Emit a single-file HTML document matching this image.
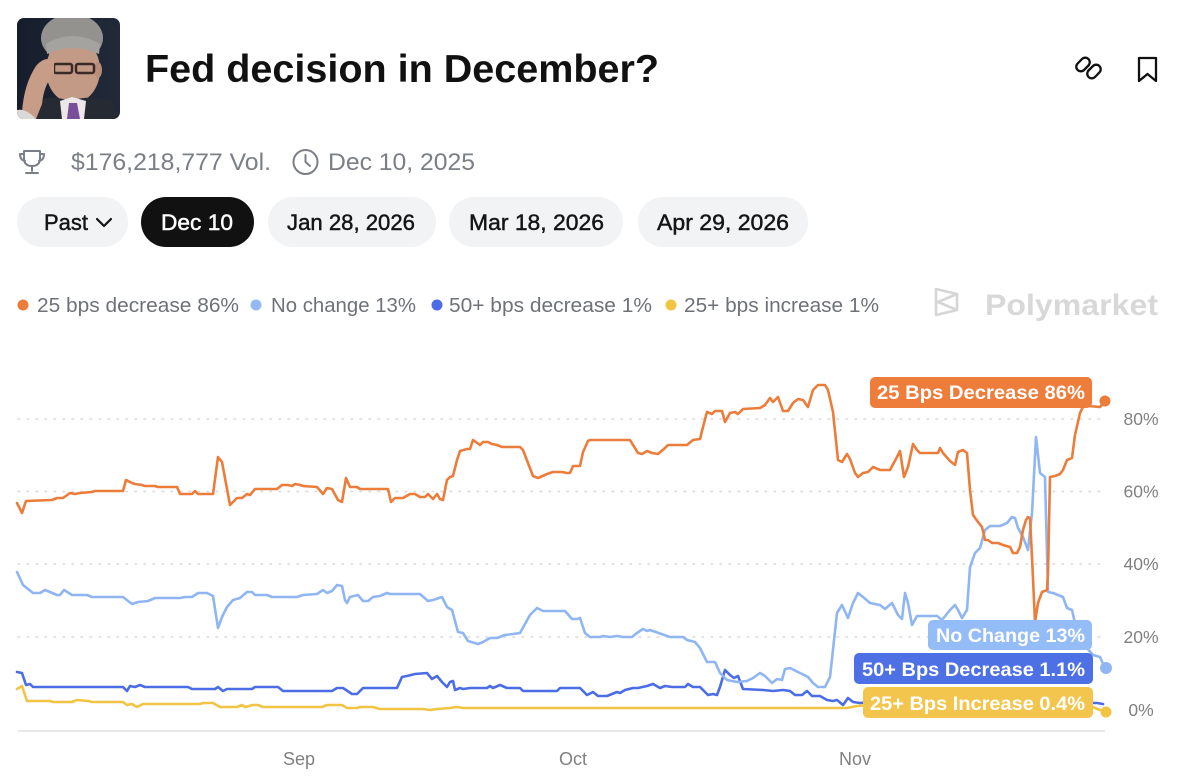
<!DOCTYPE html>
<html><head><meta charset="utf-8"><style>
html,body{margin:0;padding:0;background:#fff;}
svg{display:block;}
text{font-family:"Liberation Sans",Arial,sans-serif;}
</style></head><body>
<svg width="1198" height="780" viewBox="0 0 1198 780" xmlns="http://www.w3.org/2000/svg">
<defs>
<clipPath id="ph"><rect x="17" y="18" width="103" height="101" rx="7"/></clipPath>
<linearGradient id="bg" x1="0" y1="0" x2="1" y2="0"><stop offset="0" stop-color="#161d2c"/><stop offset="1" stop-color="#222938"/></linearGradient>
</defs>
<rect width="1198" height="780" fill="#fff"/>

<!-- Photo -->
<g clip-path="url(#ph)">
<rect x="17" y="18" width="103" height="101" fill="url(#bg)"/>
<ellipse cx="72" cy="38" rx="31" ry="24" fill="#94928f"/>
<ellipse cx="73" cy="70" rx="27" ry="33" fill="#c39a86"/>
<path d="M46,44 Q72,28 100,44 L99,54 Q72,42 47,54 Z" fill="#a5a39f"/>
<ellipse cx="48" cy="70" rx="4" ry="8" fill="#b88e7a"/>
<ellipse cx="98" cy="70" rx="4" ry="8" fill="#b88e7a"/>
<rect x="54" y="64" width="18" height="9" rx="2" fill="none" stroke="#3a2a26" stroke-width="2.5"/>
<rect x="76" y="64" width="18" height="9" rx="2" fill="none" stroke="#3a2a26" stroke-width="2.5"/>
<path d="M17,119 L28,102 Q52,94 70,101 Q92,94 112,101 L120,119 Z" fill="#262a33"/>
<path d="M60,101 L72,97 L86,101 L84,119 L62,119 Z" fill="#ece8ea"/>
<path d="M69,103 L77,103 L80,119 L67,119 Z" fill="#7a4f9a"/>
<path d="M22,112 Q24,84 36,66 Q44,56 54,60 L54,74 Q44,84 42,104 L36,119 L20,119 Z" fill="#c79d88"/>
<path d="M17,110 Q26,108 36,119 L17,119 Z" fill="#dcd8d8"/>
</g>

<!-- Title -->
<text x="145" y="82" font-size="39" font-weight="bold" fill="#111" textLength="514" lengthAdjust="spacingAndGlyphs">Fed decision in December?</text>

<!-- Link icon -->
<g fill="none" stroke="#111" stroke-width="2.3" stroke-linecap="round">
<path d="M1087,64 L1082,69 a4.5,4.5 0 0 1 -6.4,-6.4 L1080,58 a4.5,4.5 0 0 1 6.4,0 a4.5,4.5 0 0 1 0,6.4" transform="translate(2,1)"/>
<path d="M1090,72 L1095,67 a4.5,4.5 0 0 1 6.4,6.4 L1097,78 a4.5,4.5 0 0 1 -6.4,0 a4.5,4.5 0 0 1 0,-6.4" transform="translate(-2,-1)"/>
</g>
<!-- Bookmark -->
<path d="M1139,58 L1156,58 L1156,81 L1147.5,74 L1139,81 Z" fill="none" stroke="#111" stroke-width="2.3" stroke-linejoin="round"/>

<!-- Meta -->
<g fill="none" stroke="#7b7f86" stroke-width="2" stroke-linecap="round" stroke-linejoin="round">
<path d="M24,151 L40,151 L40,158 Q40,166 32,166 Q24,166 24,158 Z"/>
<path d="M24,154 L20,154 Q20,160 25,161"/>
<path d="M40,154 L44,154 Q44,160 39,161"/>
<path d="M32,166 L32,171 M26,173 L38,173"/>
<circle cx="305.5" cy="162" r="12"/>
<path d="M305.5,155 L305.5,162 L310,166"/>
</g>
<text x="71" y="170" font-size="24.5" fill="#7b7f86" textLength="200" lengthAdjust="spacingAndGlyphs">$176,218,777 Vol.</text>
<text x="328" y="170" font-size="24.5" fill="#7b7f86" textLength="147" lengthAdjust="spacingAndGlyphs">Dec 10, 2025</text>

<!-- Pills -->
<rect x="17" y="197" width="111" height="50" rx="25" fill="#f2f3f5"/>
<rect x="141" y="197" width="113" height="50" rx="25" fill="#111"/>
<rect x="268" y="197" width="168" height="50" rx="25" fill="#f2f3f5"/>
<rect x="449" y="197" width="174" height="50" rx="25" fill="#f2f3f5"/>
<rect x="638" y="197" width="170" height="50" rx="25" fill="#f2f3f5"/>
<g font-size="22" stroke-width="0.45">
<text x="44" y="230" fill="#151515" stroke="#151515" textLength="44" lengthAdjust="spacingAndGlyphs">Past</text>
<text x="161" y="230" fill="#fff" stroke="#fff" textLength="72" lengthAdjust="spacingAndGlyphs">Dec 10</text>
<text x="287" y="230" fill="#151515" stroke="#151515" textLength="128" lengthAdjust="spacingAndGlyphs">Jan 28, 2026</text>
<text x="469" y="230" fill="#151515" stroke="#151515" textLength="135" lengthAdjust="spacingAndGlyphs">Mar 18, 2026</text>
<text x="657" y="230" fill="#151515" stroke="#151515" textLength="132" lengthAdjust="spacingAndGlyphs">Apr 29, 2026</text>
</g>
<polyline points="97,219 104,226 111,219" fill="none" stroke="#151515" stroke-width="2.2" stroke-linecap="round" stroke-linejoin="round"/>

<!-- Legend -->
<circle cx="23" cy="305" r="5.5" fill="#ec7c3a"/>
<circle cx="256" cy="305" r="5.5" fill="#93b9f4"/>
<circle cx="437" cy="305" r="5.5" fill="#4a6de5"/>
<circle cx="671" cy="305" r="5.5" fill="#f2c443"/>
<g font-size="20" fill="#6e7278">
<text x="37" y="312" textLength="202" lengthAdjust="spacingAndGlyphs">25 bps decrease 86%</text>
<text x="271" y="312" textLength="145" lengthAdjust="spacingAndGlyphs">No change 13%</text>
<text x="449" y="312" textLength="203" lengthAdjust="spacingAndGlyphs">50+ bps decrease 1%</text>
<text x="684" y="312" textLength="195" lengthAdjust="spacingAndGlyphs">25+ bps increase 1%</text>
</g>
<!-- Polymarket logo -->
<g fill="none" stroke="#d6d6d6" stroke-width="2.6" stroke-linejoin="round">
<path d="M936,289 L957,294 L957,310 L936,315 Z"/>
<path d="M957,294 L938,302 L957,310"/>
</g>
<text x="985" y="315" font-size="30" font-weight="bold" fill="#d8d8d8" textLength="173" lengthAdjust="spacingAndGlyphs">Polymarket</text>

<!-- Grid -->
<g stroke="#d9d9d9" stroke-width="1.6" stroke-dasharray="1.6 7.4" stroke-linecap="round">
<line x1="18" y1="419" x2="1102" y2="419"/>
<line x1="18" y1="491.5" x2="1102" y2="491.5"/>
<line x1="18" y1="564" x2="1102" y2="564"/>
<line x1="18" y1="637" x2="1102" y2="637"/>
</g>
<line x1="18" y1="731" x2="1105" y2="731" stroke="#e2e2e2" stroke-width="1.5"/>

<!-- Y labels -->
<g font-size="17.5" fill="#808080" text-anchor="middle">
<text x="1141" y="425">80%</text>
<text x="1141" y="497.5">60%</text>
<text x="1141" y="570">40%</text>
<text x="1141" y="643">20%</text>
<text x="1141" y="716">0%</text>
</g>
<!-- X labels -->
<g font-size="18" fill="#808080" text-anchor="middle">
<text x="299" y="765">Sep</text>
<text x="573" y="765">Oct</text>
<text x="855" y="765">Nov</text>
</g>

<!-- Series -->
<g fill="none" stroke-width="2.6" stroke-linejoin="round" stroke-linecap="round">
<path stroke="#f2c443" d="M17,689 L22,686 L27,701 L50,701 L53,702 L72,702 L77,700 L88,701 L92,702 L123,702 L127,705 L132,704 L137,707 L143,704 L200,704 L203,703 L213,703 L220,707 L237,707 L242,705 L245,707 L253,705 L258,705 L263,707 L322,707 L327,705 L342,705 L347,708 L357,708 L360,707 L373,707 L380,709 L423,709 L430,710 L437,709 L450,708 L457,707 L463,708 L847,708 L857,706 L870,705 L1090,706 L1100,710 L1105,711"/>
<path stroke="#4a6de5" d="M17,672 L22,673 L26,685 L30,684 L33,687 L123,687 L127,691 L130,686 L135,687 L140,685 L145,687 L188,687 L192,689 L215,689 L218,687 L223,691 L227,689 L252,689 L255,687 L278,687 L283,691 L332,691 L337,688 L343,688 L352,694 L357,694 L363,688 L397,688 L402,677 L407,676 L415,674 L427,673 L432,679 L437,676 L442,682 L447,687 L450,682 L453,681 L455,690 L460,688 L463,689 L470,688 L487,688 L490,686 L493,688 L500,685 L507,688 L520,688 L523,691 L557,691 L560,688 L580,688 L587,695 L593,692 L598,696 L607,696 L617,692 L620,693 L625,690 L633,688 L638,688 L647,686 L653,684 L660,688 L665,686 L672,687 L685,687 L688,684 L693,687 L700,687 L708,695 L713,694 L717,695 L720,687 L725,670 L730,675 L734,678 L738,676 L743,689 L763,690 L773,691 L783,690 L790,691 L795,695 L802,695 L807,691 L812,696 L820,696 L827,700 L833,701 L837,700 L843,705 L848,698 L853,702 L860,703 L870,702 L1090,703 L1097,703 L1103,704"/>
<path stroke="#8fb6f3" d="M17,572 L23,585 L33,593 L40,593 L45,590 L50,592 L57,595 L60,595 L64,590 L72,595 L87,595 L92,597 L123,597 L132,604 L138,602 L148,601 L155,598 L180,598 L185,597 L192,597 L198,593 L207,593 L213,596 L218,628 L222,617 L227,607 L233,600 L240,598 L247,592 L252,592 L255,595 L267,595 L272,597 L297,597 L303,595 L317,594 L323,590 L327,593 L332,591 L337,585 L342,586 L345,600 L347,603 L350,597 L358,595 L363,601 L368,601 L373,597 L380,596 L387,593 L390,594 L420,594 L428,601 L433,600 L442,597 L447,607 L452,610 L458,632 L463,633 L468,641 L478,644 L483,642 L490,638 L497,638 L505,635 L513,634 L520,633 L530,615 L537,608 L543,611 L565,611 L572,619 L577,619 L580,618 L585,633 L590,637 L600,637 L603,636 L610,637 L617,636 L623,637 L632,637 L637,633 L643,629 L647,631 L650,630 L670,637 L683,637 L687,640 L695,642 L700,648 L707,662 L715,662 L720,673 L727,680 L737,682 L747,681 L753,678 L760,673 L765,676 L772,683 L777,679 L782,680 L785,669 L790,668 L798,672 L808,677 L813,683 L818,687 L825,687 L830,677 L837,613 L842,605 L848,618 L853,603 L858,593 L863,597 L870,603 L880,605 L885,609 L892,603 L898,615 L902,619 L905,593 L908,603 L912,625 L917,616 L937,616 L942,620 L950,610 L955,605 L958,610 L962,618 L967,610 L970,567 L975,553 L980,548 L985,530 L990,526 L1000,526 L1007,523 L1012,517 L1015,518 L1018,528 L1023,537 L1028,550 L1032,513 L1036,437 L1040,473 L1045,477 L1048,592 L1053,593 L1063,597 L1067,608 L1072,610 L1075,623 L1080,640 L1093,655 L1100,657 L1105,668"/>
<path stroke="#ec7c3a" d="M17,503 L22,513 L26,501 L52,500 L57,498 L63,498 L70,493 L75,494 L80,493 L92,492 L95,491 L123,491 L126,480 L132,483 L135,484 L142,485 L145,486 L155,486 L158,487 L177,487 L180,494 L192,494 L195,491 L198,494 L213,494 L218,457 L222,462 L230,505 L237,498 L242,498 L247,494 L250,495 L255,489 L277,489 L282,485 L288,485 L292,486 L295,484 L300,485 L303,486 L317,487 L323,494 L327,488 L332,489 L338,500 L342,502 L346,478 L350,487 L357,487 L360,489 L388,489 L391,502 L395,498 L403,498 L410,494 L415,494 L420,497 L425,497 L428,494 L433,499 L437,494 L440,499 L443,500 L447,480 L450,477 L453,476 L457,460 L460,451 L467,449 L470,449 L473,440 L480,445 L483,442 L488,442 L492,444 L497,445 L502,447 L520,447 L523,450 L528,463 L533,476 L538,478 L547,474 L553,472 L562,472 L567,473 L570,473 L573,466 L580,466 L583,452 L588,441 L590,440 L630,440 L638,453 L642,454 L647,451 L652,453 L658,454 L665,448 L668,445 L687,445 L693,440 L700,439 L703,427 L707,412 L712,414 L715,411 L722,411 L725,422 L730,413 L735,412 L738,414 L743,409 L760,408 L765,405 L770,398 L773,402 L778,397 L783,411 L788,411 L793,403 L798,399 L803,400 L808,407 L813,390 L818,385 L825,385 L828,390 L833,412 L838,460 L842,462 L847,454 L850,459 L855,473 L858,477 L863,473 L868,472 L873,467 L880,470 L890,470 L897,457 L900,451 L904,477 L908,467 L913,444 L917,450 L920,453 L938,453 L940,448 L943,453 L950,461 L955,465 L958,452 L963,450 L967,453 L970,490 L973,515 L978,522 L982,527 L985,540 L988,540 L992,543 L998,543 L1003,545 L1010,547 L1013,553 L1017,553 L1020,547 L1023,530 L1026,520 L1028,517 L1030,518 L1032,557 L1035,622 L1038,603 L1042,592 L1047,590 L1048,573 L1050,477 L1055,476 L1060,474 L1063,470 L1067,460 L1072,458 L1075,435 L1080,413 L1083,407 L1088,406 L1100,407 L1105,401"/>
</g>
<!-- End dots -->
<circle cx="1105" cy="401" r="5.5" fill="#ec7c3a"/>
<circle cx="1106" cy="668" r="6" fill="#8fb6f3"/>
<circle cx="1106" cy="712" r="5.5" fill="#f2c443"/>

<!-- Labels -->
<rect x="870" y="377" width="222" height="31" rx="5" fill="#ee7d3b"/>
<rect x="928" y="620" width="164" height="30" rx="5" fill="#94bcf6"/>
<rect x="854" y="653" width="239" height="31" rx="5" fill="#4d70e4"/>
<rect x="863" y="687" width="230" height="31" rx="5" fill="#f3c54c"/>
<g font-size="19.5" font-weight="bold" fill="#fff">
<text x="877" y="399" textLength="208" lengthAdjust="spacingAndGlyphs">25 Bps Decrease 86%</text>
<text x="936" y="642" textLength="149" lengthAdjust="spacingAndGlyphs">No Change 13%</text>
<text x="862" y="676" textLength="223" lengthAdjust="spacingAndGlyphs">50+ Bps Decrease 1.1%</text>
<text x="870" y="710" textLength="215" lengthAdjust="spacingAndGlyphs">25+ Bps Increase 0.4%</text>
</g>
</svg>
</body></html>
